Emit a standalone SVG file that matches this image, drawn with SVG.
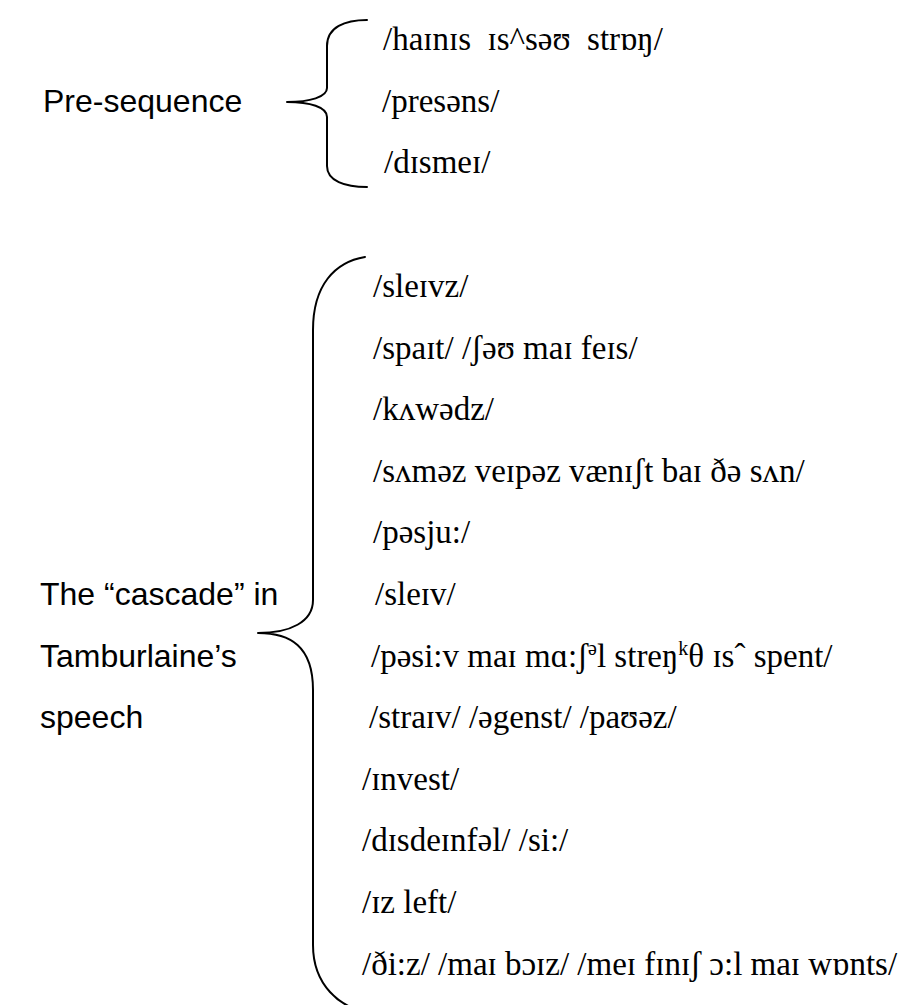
<svg xmlns="http://www.w3.org/2000/svg" width="918" height="1005" viewBox="0 0 918 1005">
  <style>
    .label { font-family: "Liberation Sans", Arial, sans-serif; font-size: 32px; fill: #000; }
    .ipa { font-family: "Liberation Serif", "Times New Roman", "DejaVu Serif", serif; font-size: 33px; fill: #000; }
    .wide { white-space: pre; }
    .sup { font-size: 20px; }
    .brace { fill: none; stroke: #000; stroke-width: 2; stroke-linecap: round; stroke-linejoin: round; }
  </style>
  <rect width="918" height="1005" fill="#fff"/>

  <!-- Curly braces grouping the transcriptions -->
  <g id="connectors">
    <path class="brace" d="M 367 20 C 345 20 327 27 327 46 L 327 88 C 327 97 310 102 287 102 C 310 102 327 107 327 117 L 327 166 C 327 181 345 187 367 187"/>
    <path class="brace" d="M 365 257 C 335 262 313 285 313 330 L 313 600 C 313 622 290 633 258 633 C 290 633 313 646 313 690 L 313 945 C 313 985 340 1008 368 1012"/>
  </g>

  <!-- Pre-sequence -->
  <g id="pre-sequence">
    <text class="label" x="43" y="112">Pre-sequence</text>
  </g>
  <g id="pre-sequence-items">
    <text class="ipa wide" x="383" y="50">/haɪnɪs  ɪs^səʊ  strɒŋ/</text>
    <text class="ipa" x="382" y="112">/presəns/</text>
    <text class="ipa" x="384" y="173">/dɪsmeɪ/</text>
  </g>

  <!-- The cascade -->
  <g id="cascade">
    <text class="label" x="40" y="605">The “cascade” in</text>
    <text class="label" x="40" y="667">Tamburlaine’s</text>
    <text class="label" x="40" y="728">speech</text>
  </g>
  <g id="cascade-items">
    <text class="ipa" x="373" y="297">/sleɪvz/</text>
    <text class="ipa" x="373" y="359">/spaɪt/ /ʃəʊ maɪ feɪs/</text>
    <text class="ipa" x="373" y="420">/kʌwədz/</text>
    <text class="ipa" x="373" y="482">/sʌməz veɪpəz vænɪʃt baɪ ðə sʌn/</text>
    <text class="ipa" x="373" y="543">/pəsju:/</text>
    <text class="ipa" x="375" y="605">/sleɪv/</text>
    <text class="ipa" x="371" y="667">/pəsi:v maɪ mɑ:ʃ<tspan class="sup" dy="-12">ə</tspan><tspan dy="12">l streŋ</tspan><tspan class="sup" dy="-12">k</tspan><tspan dy="12">θ ɪsˆ spent/</tspan></text>
    <text class="ipa" x="369" y="728">/straɪv/ /əgenst/ /paʊəz/</text>
    <text class="ipa" x="362" y="790">/ɪnvest/</text>
    <text class="ipa" x="362" y="851">/dɪsdeɪnfəl/ /si:/</text>
    <text class="ipa" x="362" y="913">/ɪz left/</text>
    <text class="ipa" x="362" y="975">/ði:z/ /maɪ bɔɪz/ /meɪ fɪnɪʃ ɔ:l maɪ wɒnts/</text>
  </g>
</svg>
